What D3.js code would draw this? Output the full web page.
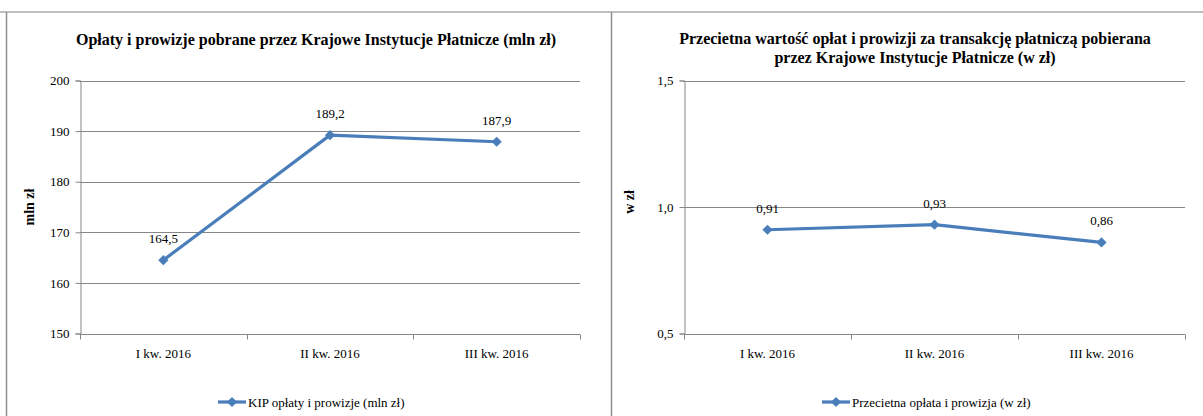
<!DOCTYPE html>
<html>
<head>
<meta charset="utf-8">
<script src="https://cdn.jsdelivr.net/npm/d3@7"></script>
<style>
  body { margin: 0; background: #fff; }
  svg text { font-family: "Liberation Serif", "Times New Roman", Times, serif; }
</style>
</head>
<body>
<div id="app"></div>
<script>
const WIDTH = 1203;
const HEIGHT = 416;

// data
const categories = ["I kw. 2016", "II kw. 2016", "III kw. 2016"];
const feesValues = [164.5, 189.2, 187.9];
const avgValues = [0.91, 0.93, 0.86];
const feesTicks = [150, 160, 170, 180, 190, 200];
const avgTicks = [0.5, 1.0, 1.5];

const LINE_COLOR = "#4a7ebb";
const GRID_COLOR = "#878787";
const FONT = "'Liberation Serif', 'Times New Roman', serif";

const svg = d3.select("#app").append("svg")
  .attr("width", WIDTH)
  .attr("height", HEIGHT)
  .attr("font-family", FONT);

// panel frame lines
svg.append("line").attr("x1", 0).attr("x2", WIDTH).attr("y1", 12).attr("y2", 12)
  .attr("stroke", "#c0c0c0").attr("stroke-width", 2);
svg.append("line").attr("x1", 6.5).attr("x2", 6.5).attr("y1", 12).attr("y2", HEIGHT)
  .attr("stroke", "#8f8f8f").attr("stroke-width", 1.5);
svg.append("line").attr("x1", 611.5).attr("x2", 611.5).attr("y1", 12).attr("y2", HEIGHT)
  .attr("stroke", "#8f8f8f").attr("stroke-width", 1.5);

const comma = (f) => (v) => f(v).replace(".", ",");

function drawChart(cfg) {
  const g = svg.append("g");

  const x = d3.scaleBand().domain(categories).range([cfg.left, cfg.right]).padding(0);
  const y = d3.scaleLinear().domain(cfg.domain).range([333.5, 80.5]);
  const cx = (c) => x(c) + x.bandwidth() / 2;

  // title
  const title = g.append("text")
    .attr("x", cfg.titleX)
    .attr("y", cfg.titleY)
    .attr("text-anchor", "middle")
    .attr("font-weight", "bold")
    .attr("font-size", 16);
  title.selectAll("tspan")
    .data(cfg.title)
    .join("tspan")
    .attr("x", cfg.titleX)
    .attr("dy", (d, i) => (i === 0 ? 0 : 19))
    .text((d) => d);

  // gridlines
  g.append("g")
    .selectAll("line")
    .data(cfg.ticks)
    .join("line")
    .attr("x1", cfg.left)
    .attr("x2", cfg.right)
    .attr("y1", (d) => Math.round(y(d)) + 0.5)
    .attr("y2", (d) => Math.round(y(d)) + 0.5)
    .attr("stroke", GRID_COLOR)
    .attr("stroke-width", 1);

  // y axis
  const yAxis = g.append("g")
    .attr("transform", `translate(${cfg.left + 0.5},0)`)
    .call(d3.axisLeft(y).tickValues(cfg.ticks).tickSize(5).tickPadding(6).tickFormat(cfg.format));
  yAxis.attr("font-family", FONT);
  yAxis.selectAll("path, line").attr("stroke", GRID_COLOR);
  yAxis.selectAll("text").attr("font-size", 13).attr("fill", "#000");

  // x axis
  const xAxisG = g.append("g").attr("transform", `translate(0,${Math.round(y(cfg.domain[0])) + 0.5})`);
  xAxisG.append("line")
    .attr("x1", cfg.left).attr("x2", cfg.right)
    .attr("stroke", GRID_COLOR);
  xAxisG.selectAll(".tick")
    .data(categories.map((c) => x(c)).concat([cfg.right]))
    .join("line")
    .attr("class", "tick")
    .attr("x1", (d) => Math.round(d) + 0.5)
    .attr("x2", (d) => Math.round(d) + 0.5)
    .attr("y1", 0)
    .attr("y2", 5)
    .attr("stroke", GRID_COLOR);
  xAxisG.selectAll("text")
    .data(categories)
    .join("text")
    .attr("x", (d) => cx(d))
    .attr("y", 23)
    .attr("text-anchor", "middle")
    .attr("font-size", 13)
    .text((d) => d);

  // axis title
  g.append("text")
    .attr("transform", `translate(${cfg.axisTitleX},${cfg.axisTitleY}) rotate(-90)`)
    .attr("text-anchor", "middle")
    .attr("font-weight", "bold")
    .attr("font-size", 14)
    .text(cfg.axisTitle);

  // line
  const line = d3.line()
    .x((d, i) => cx(categories[i]))
    .y((d) => y(d));
  g.append("path")
    .datum(cfg.values)
    .attr("d", line)
    .attr("fill", "none")
    .attr("stroke", LINE_COLOR)
    .attr("stroke-width", 3.2)
    .attr("stroke-linejoin", "round");

  const diamond = d3.symbol().type(d3.symbolSquare).size(52);
  g.append("g")
    .selectAll("path")
    .data(cfg.values)
    .join("path")
    .attr("d", diamond)
    .attr("transform", (d, i) => `translate(${cx(categories[i])},${y(d)}) rotate(45)`)
    .attr("fill", LINE_COLOR);

  // data labels
  g.append("g")
    .selectAll("text")
    .data(cfg.values)
    .join("text")
    .attr("x", (d, i) => cx(categories[i]))
    .attr("y", (d) => y(d) - 17)
    .attr("text-anchor", "middle")
    .attr("font-size", 13)
    .text((d) => cfg.labelFormat(d));

  // legend
  const lg = g.append("g").attr("transform", `translate(${cfg.legendX},402)`);
  lg.append("line").attr("x1", 0).attr("x2", 28).attr("y1", 0).attr("y2", 0)
    .attr("stroke", LINE_COLOR).attr("stroke-width", 3.2);
  lg.append("path").attr("d", diamond).attr("transform", "translate(14,0) rotate(45)")
    .attr("fill", LINE_COLOR);
  lg.append("text").attr("x", 30).attr("y", 4.5).attr("font-size", 13).text(cfg.legend);
}

drawChart({
  left: 80,
  right: 580,
  domain: [150, 200],
  ticks: feesTicks,
  values: feesValues,
  format: d3.format("d"),
  labelFormat: comma(d3.format(".1f")),
  title: ["Opłaty i prowizje pobrane przez Krajowe Instytucje Płatnicze (mln zł)"],
  titleX: 316,
  titleY: 45,
  axisTitle: "mln zł",
  axisTitleX: 34,
  axisTitleY: 207,
  legend: "KIP opłaty i prowizje (mln zł)",
  legendX: 218
});

drawChart({
  left: 684,
  right: 1185,
  domain: [0.5, 1.5],
  ticks: avgTicks,
  values: avgValues,
  format: comma(d3.format(".1f")),
  labelFormat: comma(d3.format(".2f")),
  title: ["Przecietna wartość opłat i prowizji za transakcję płatniczą pobierana",
          "przez Krajowe Instytucje Płatnicze (w zł)"],
  titleX: 915,
  titleY: 44,
  axisTitle: "w zł",
  axisTitleX: 634,
  axisTitleY: 202,
  legend: "Przecietna opłata i prowizja (w zł)",
  legendX: 822
});
</script>
</body>
</html>
